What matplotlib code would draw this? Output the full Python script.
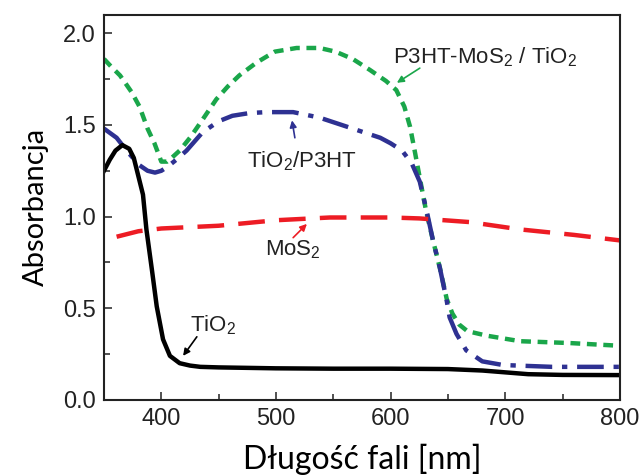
import matplotlib.pyplot as plt
import numpy as np

# TiO2 (black, solid)
tio2_x = [350, 355, 360, 366, 372, 376, 380, 384, 387, 392, 396, 401.5, 407.5, 416, 425, 434, 450, 500, 550, 600, 650, 680, 700, 720, 750, 800]
tio2_y = [1.25, 1.31, 1.36, 1.39, 1.37, 1.32, 1.22, 1.12, 0.93, 0.70, 0.51, 0.33, 0.24, 0.20, 0.187, 0.18, 0.177, 0.172, 0.170, 0.170, 0.168, 0.160, 0.150, 0.140, 0.136, 0.135]

# MoS2 (red, dashed)
mos2_x = [361, 380, 400, 450, 500, 547, 600, 625, 669, 713, 760, 800]
mos2_y = [0.89, 0.92, 0.935, 0.95, 0.98, 0.995, 0.995, 0.99, 0.97, 0.93, 0.90, 0.87]

# TiO2/P3HT (blue, dash-dot)
tp_x = [350, 361, 371, 381, 388, 394.5, 400, 405, 413, 422, 436, 450, 462, 477, 492, 515, 538, 567, 591, 600, 610, 618.5, 625.5, 631.5, 637, 643, 649, 651.5, 657.5, 666, 680, 698, 741, 800]
tp_y = [1.48, 1.43, 1.35, 1.28, 1.25, 1.24, 1.25, 1.27, 1.31, 1.36, 1.46, 1.52, 1.55, 1.565, 1.57, 1.57, 1.54, 1.48, 1.43, 1.40, 1.36, 1.29, 1.19, 1.03, 0.87, 0.72, 0.54, 0.45, 0.36, 0.27, 0.21, 0.19, 0.18, 0.18]

# P3HT-MoS2 / TiO2 (green, short dash)
pm_x = [350, 356, 364, 374, 381, 388, 394, 400, 405, 409, 416, 425, 435, 448, 458, 468, 483, 499, 518, 538, 552, 567, 582, 596, 605, 612, 617, 621, 625.5, 631, 637, 643, 649, 654, 660, 667, 684, 713, 756, 800]
pm_y = [1.86, 1.82, 1.77, 1.68, 1.60, 1.48, 1.40, 1.30, 1.30, 1.32, 1.36, 1.43, 1.52, 1.64, 1.71, 1.77, 1.84, 1.90, 1.92, 1.92, 1.90, 1.86, 1.80, 1.74, 1.69, 1.60, 1.49, 1.36, 1.21, 1.03, 0.87, 0.72, 0.55, 0.47, 0.41, 0.375, 0.35, 0.32, 0.31, 0.295]

green = '#1aa64a'
blue = '#2e3192'
red = '#ed1c24'

plt.rcParams['font.family'] = ['Liberation Sans', 'DejaVu Sans']
plt.rcParams['mathtext.fontset'] = 'custom'
plt.rcParams['mathtext.rm'] = 'Liberation Sans'
plt.rcParams['mathtext.it'] = 'Liberation Sans'

fig = plt.figure(figsize=(6.4, 4.76), dpi=100)
ax = fig.add_axes([0.1625, 0.16, 0.806, 0.8085])

ax.plot(pm_x, pm_y, color=green, lw=3.2, dashes=(2.2, 1.5))
ax.plot(tp_x, tp_y, color=blue, lw=3.2, dashes=(6, 2.2, 1.2, 2.2))
ax.plot(mos2_x, mos2_y, color=red, lw=3.2, dashes=(6, 3.2))
ax.plot(tio2_x, tio2_y, color='black', lw=3.2)

ax.set_xlim(350, 800)
ax.set_ylim(0, 2.1)
ax.set_xticks([400, 500, 600, 700, 800])
ax.set_xticks([350, 450, 550, 650, 750], minor=True)
ax.set_yticks([0.0, 0.5, 1.0, 1.5, 2.0])
ax.set_yticks([0.25, 0.75, 1.25, 1.75], minor=True)
ax.tick_params(which='both', direction='in', labelsize=17, colors='#333333', labelcolor='#222222')
ax.tick_params(which='major', length=6, width=1.2)
ax.tick_params(which='minor', length=4, width=1.2)
ax.tick_params(axis='x', pad=6)
ax.tick_params(axis='y', pad=6)
for s in ax.spines.values():
    s.set_linewidth(1.5)
    s.set_color('#222222')

lab_font = ['Lato', 'DejaVu Sans']
ax.set_xlabel('Długość fali [nm]', fontsize=23, family=lab_font, labelpad=10)
ax.set_ylabel('Absorbancja', fontsize=21, family=lab_font, labelpad=10)

# labels and arrows
ax.text(602, 1.836, 'P3HT-MoS$_2$ / TiO$_2$', fontsize=16, ha='left', va='baseline', color='#222222')
ax.text(474.7, 1.268, 'TiO$_2$/P3HT', fontsize=16, ha='left', va='baseline', color='#222222')
ax.text(490.4, 0.787, 'MoS$_2$', fontsize=16, ha='left', va='baseline', color='#222222')
ax.text(425, 0.372, 'TiO$_2$', fontsize=16, ha='left', va='baseline', color='#222222')

arrow = dict(arrowstyle='-|>', lw=1.2, mutation_scale=10, shrinkA=0, shrinkB=0)
ax.annotate('', xy=(605.5, 1.73), xytext=(625.5, 1.81), arrowprops=dict(arrow, color=green))
ax.annotate('', xy=(514, 1.525), xytext=(516.5, 1.43), arrowprops=dict(arrow, color=blue))
ax.annotate('', xy=(527, 0.96), xytext=(515, 0.885), arrowprops=dict(arrow, color=red))
ax.annotate('', xy=(419, 0.24), xytext=(431, 0.344), arrowprops=dict(arrow, color='black'))

fig.savefig('out.png', dpi=100)
